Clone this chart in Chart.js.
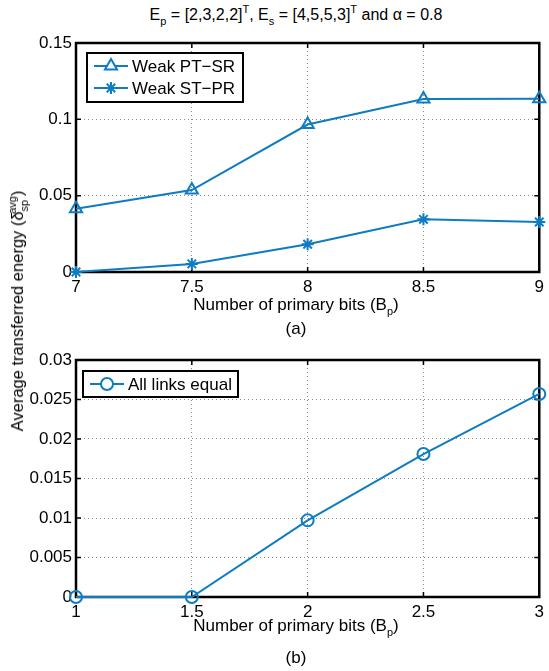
<!DOCTYPE html>
<html>
<head>
<meta charset="utf-8">
<script src="https://cdn.jsdelivr.net/npm/chart.js@4.4.1/dist/chart.umd.min.js"></script>
<style>
body{margin:0;width:549px;height:671px;position:relative;background:#fff;overflow:hidden;
  font-family:"Liberation Sans",Arial,Helvetica,sans-serif;font-size:16px;color:#000}
.lbl{position:absolute;white-space:nowrap;transform:translate(-50%,-50%);line-height:18px}
.lbl sub,.lbl sup{font-size:11px;line-height:0}
.lbl sub{vertical-align:-5px}
.lbl sup{vertical-align:7px}
.big{font-size:17px}
.cv{position:absolute;left:0}
</style>
</head>
<body>
<div class="lbl" style="left:296px;top:15px">E<sub>p</sub> = [2,3,2,2]<sup>T</sup>, E<sub>s</sub> = [4,5,5,3]<sup>T</sup> and &alpha; = 0.8</div>
<canvas id="chartA" class="cv" style="top:0" width="549" height="300"></canvas>
<div class="lbl big" style="left:296px;top:305px">Number of primary bits (B<sub>p</sub>)</div>
<div class="lbl big" style="left:296px;top:329px">(a)</div>
<canvas id="chartB" class="cv" style="top:330px" width="549" height="300"></canvas>
<div class="lbl big" style="left:296px;top:626px">Number of primary bits (B<sub>p</sub>)</div>
<div class="lbl big" style="left:296px;top:658px">(b)</div>
<div class="lbl" style="left:17px;top:311px;font-size:16.5px;transform:translate(-50%,-50%) rotate(-90deg)">Average transferred energy (&delta;<sub>sp</sub><sup style="margin-left:-14px">avg</sup>)</div>

<script>
// values
const bitsA = [7, 7.5, 8, 8.5, 9];
const weakPTSR = [0.0415, 0.0537, 0.0966, 0.1133, 0.1135];
const weakSTPR = [0, 0.0053, 0.0182, 0.0345, 0.0328];

const bitsB = [1, 1.5, 2, 2.5, 3];
const allLinks = [0, 0, 0.0097, 0.0181, 0.0257];

const blue = '#0e7cc2';
const fontTick = {family: '"Liberation Sans", Arial, sans-serif', size: 17};

function pts(xs, ys) { return xs.map((x, i) => ({x: x, y: ys[i]})); }

// box round the plot and inward tick marks, like matlab
const frame = {
  id: 'frame',
  beforeDatasetsDraw(chart) {
    const c = chart.ctx, a = chart.chartArea;
    const xs = chart.scales.x, ys = chart.scales.y;
    c.save();
    c.strokeStyle = '#000';
    c.lineWidth = 1.5;
    c.beginPath();
    xs.ticks.forEach(t => {
      const p = xs.getPixelForValue(t.value);
      c.moveTo(p, a.bottom); c.lineTo(p, a.bottom - 5);
      c.moveTo(p, a.top); c.lineTo(p, a.top + 5);
    });
    ys.ticks.forEach(t => {
      const p = ys.getPixelForValue(t.value);
      c.moveTo(a.left, p); c.lineTo(a.left + 5, p);
      c.moveTo(a.right, p); c.lineTo(a.right - 5, p);
    });
    c.stroke();
    c.lineWidth = 2.5;
    c.strokeRect(a.left, a.top, a.right - a.left, a.bottom - a.top);
    c.restore();
  }
};

// legend box inside the plot
const boxLegend = {
  id: 'boxLegend',
  afterDatasetsDraw(chart, args, opts) {
    const c = chart.ctx;
    const b = opts.box;
    c.save();
    c.fillStyle = '#fff';
    c.fillRect(b.x, b.y, b.w, b.h);
    c.strokeStyle = '#000';
    c.lineWidth = 2;
    c.strokeRect(b.x, b.y, b.w, b.h);
    c.font = '17px "Liberation Sans", Arial, sans-serif';
    c.textBaseline = 'middle';
    chart.data.datasets.forEach((ds, i) => {
      const y = b.y + opts.rowTop + i * opts.rowStep;
      c.strokeStyle = ds.borderColor;
      c.lineWidth = 2;
      c.beginPath();
      c.moveTo(b.x + 7, y); c.lineTo(b.x + 41, y);
      c.stroke();
      Chart.helpers.drawPoint(c, {
        pointStyle: ds.pointStyle, radius: ds.pointRadius, borderWidth: 2, rotation: 0
      }, b.x + 24, y);
      c.fillStyle = '#000';
      c.fillText(ds.label, b.x + 45, y + 1);
    });
    c.restore();
  }
};

function makeChart(id, xsVals, sets, xr, yr, ystep, padTop, xh, legend) {
  return new Chart(document.getElementById(id), {
    type: 'line',
    data: {
      datasets: sets.map(s => ({
        label: s.label,
        data: pts(xsVals, s.data),
        borderColor: blue,
        backgroundColor: 'rgba(0,0,0,0)',
        borderWidth: 2,
        pointStyle: s.style,
        pointRadius: s.r,
        pointBorderWidth: 2,
        pointBorderColor: blue,
        pointBackgroundColor: 'rgba(0,0,0,0)',
        tension: 0,
        clip: false
      }))
    },
    options: {
      responsive: false,
      animation: false,
      layout: {padding: {top: padTop, right: 4, left: 0, bottom: 0}},
      plugins: {legend: {display: false}, tooltip: {enabled: false}, boxLegend: legend},
      scales: {
        x: {
          type: 'linear', min: xr[0], max: xr[1],
          border: {display: false, dash: [1, 3]},
          grid: {color: '#8a8a8a', drawTicks: false},
          ticks: {stepSize: 0.5, padding: 5, color: '#000', font: fontTick, maxRotation: 0,
                  callback: v => String(+v.toFixed(2))},
          afterFit: s => { s.height = xh; }
        },
        y: {
          min: yr[0], max: yr[1],
          border: {display: false, dash: [1, 3]},
          grid: {color: '#8a8a8a', drawTicks: false},
          ticks: {stepSize: ystep, padding: 4, color: '#000', font: fontTick,
                  callback: v => String(+v.toFixed(4))},
          afterFit: s => { s.width = 76; }
        }
      }
    },
    plugins: [frame, boxLegend]
  });
}

makeChart('chartA', bitsA, [
  {label: 'Weak PT\u2212SR', data: weakPTSR, style: 'triangle', r: 7},
  {label: 'Weak ST\u2212PR', data: weakSTPR, style: 'star', r: 6}
], [7, 9], [0, 0.15], 0.05, 43, 28,
  {box: {x: 87, y: 53, w: 156, h: 49}, rowTop: 13, rowStep: 22});

makeChart('chartB', bitsB, [
  {label: 'All links equal', data: allLinks, style: 'circle', r: 6}
], [1, 3], [0, 0.03], 0.005, 30, 33,
  {box: {x: 83, y: 41, w: 155, h: 26}, rowTop: 13, rowStep: 22});
</script>
</body>
</html>
